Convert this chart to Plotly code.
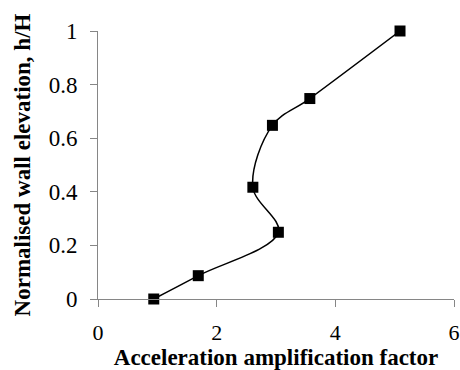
import plotly.graph_objects as go

# Acceleration amplification factor vs normalised wall elevation
amplification = [0.94, 1.69, 3.04, 2.61, 2.94, 3.57, 5.09]
elevation = [0.0, 0.087, 0.249, 0.417, 0.648, 0.748, 1.0]

x_ticks = [0, 2, 4, 6]
y_ticks = [0, 0.2, 0.4, 0.6, 0.8, 1]
y_tick_labels = ["0", "0.2", "0.4", "0.6", "0.8", "1"]

serif = "Liberation Serif"
axis_grey = "#868686"

fig = go.Figure()
fig.add_trace(go.Scatter(
    x=amplification,
    y=elevation,
    mode="lines+markers",
    line=dict(color="black", width=1.5, shape="spline", smoothing=1),
    marker=dict(symbol="square", size=11, color="black"),
    cliponaxis=False,
    showlegend=False,
))

fig.update_layout(
    width=460,
    height=370,
    margin=dict(l=98, r=6, t=31, b=71),
    paper_bgcolor="white",
    plot_bgcolor="white",
    font=dict(family=serif, color="black", size=23),
)

fig.update_xaxes(
    range=[0, 6],
    tickvals=x_ticks,
    ticks="outside",
    ticklen=7,
    tickcolor=axis_grey,
    tickwidth=1,
    showline=True,
    linecolor=axis_grey,
    linewidth=1,
    showgrid=False,
    zeroline=False,
    automargin=False,
    ticklabelstandoff=7,
    tickfont=dict(family=serif, size=22),
    title=dict(text="<b>Acceleration amplification factor</b>",
               font=dict(family=serif, size=23), standoff=6),
)

fig.update_yaxes(
    range=[0, 1],
    tickvals=y_ticks,
    ticktext=y_tick_labels,
    ticks="outside",
    ticklen=7,
    tickcolor=axis_grey,
    tickwidth=1,
    showline=True,
    linecolor=axis_grey,
    linewidth=1,
    showgrid=False,
    zeroline=False,
    automargin=False,
    ticklabelstandoff=8,
    tickfont=dict(family=serif, size=23),
    title=dict(text="<b>Normalised wall elevation, h/H</b>",
               font=dict(family=serif, size=23), standoff=11),
)

fig.write_html("out.html")
